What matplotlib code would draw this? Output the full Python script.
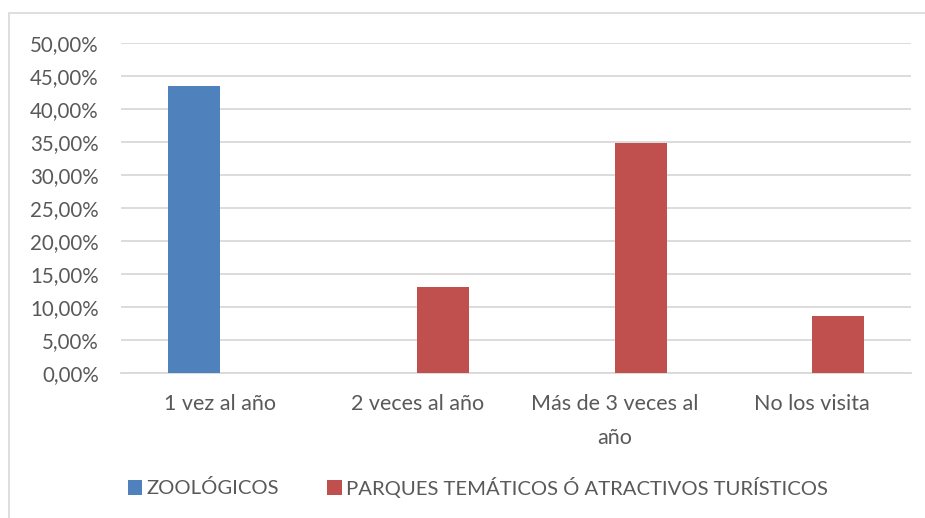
import matplotlib
matplotlib.use("Agg")
import matplotlib.pyplot as plt
from matplotlib.patches import Rectangle
from matplotlib.ticker import FuncFormatter
import numpy as np

categories = ["1 vez al año", "2 veces al año", "Más de 3 veces al\naño", "No los visita"]
zoologicos = [0.4348, 0.0, 0.0, 0.0]
parques = [0.0, 0.1304, 0.3478, 0.0870]
series_names = ["ZOOLÓGICOS", "PARQUES TEMÁTICOS Ó ATRACTIVOS TURÍSTICOS"]
yticks = [0.0, 0.05, 0.10, 0.15, 0.20, 0.25, 0.30, 0.35, 0.40, 0.45, 0.50]

plt.rcParams['font.family'] = ['Lato', 'DejaVu Sans']
txt_color = "#595959"
blue = "#4F81BD"
red = "#C0504D"

W, H = 925, 518
fig = plt.figure(figsize=(W / 100, H / 100), dpi=100)

# outer chart frame
fig.add_artist(Rectangle((9 / W, -0.1), 1.2, 1 - 13.5 / H + 0.1, transform=fig.transFigure,
                         fill=False, edgecolor="#D9D9D9", linewidth=1.2))

left, right = 121 / W, 911 / W
bottom, top = 1 - 373.3 / H, 1 - 42.7 / H
ax = fig.add_axes([left, bottom, right - left, top - bottom])

x = np.arange(len(categories))
w = 0.263
ax.bar(x - w / 2, zoologicos, width=w, color=blue, linewidth=0, label=series_names[0], zorder=3)
ax.bar(x + w / 2, parques, width=w, color=red, linewidth=0, label=series_names[1], zorder=3)

ax.set_xlim(-0.5, len(categories) - 0.5)
ax.set_ylim(0, 0.5)
ax.set_yticks(yticks)
ax.yaxis.set_major_formatter(FuncFormatter(lambda v, p: f"{v*100:.2f}%".replace(".", ",")))
ax.set_xticks(x)
ax.set_xticklabels(categories, linespacing=1.85, va="top")
ax.tick_params(axis="both", length=0, colors=txt_color)
ax.tick_params(axis="y", pad=16, labelsize=14.8)
ax.tick_params(axis="x", pad=15, labelsize=15.5)
for lbl in ax.get_xticklabels():
    lbl.set_color(txt_color)
ax.grid(axis="y", color="#D9D9D9", linewidth=1.3, zorder=0)
for s in ["top", "right", "left"]:
    ax.spines[s].set_visible(False)
ax.spines["bottom"].set_color("#D9D9D9")
ax.spines["bottom"].set_linewidth(1.3)

leg = fig.legend(loc="center left", bbox_to_anchor=(128 / W, 1 - 487 / H), ncol=2, frameon=False,
                 fontsize=14.6, handlelength=0.7, handleheight=0.7, handletextpad=0.2,
                 columnspacing=2.4, borderpad=0, borderaxespad=0, labelcolor=txt_color)

fig.savefig("out.png", dpi=100)
